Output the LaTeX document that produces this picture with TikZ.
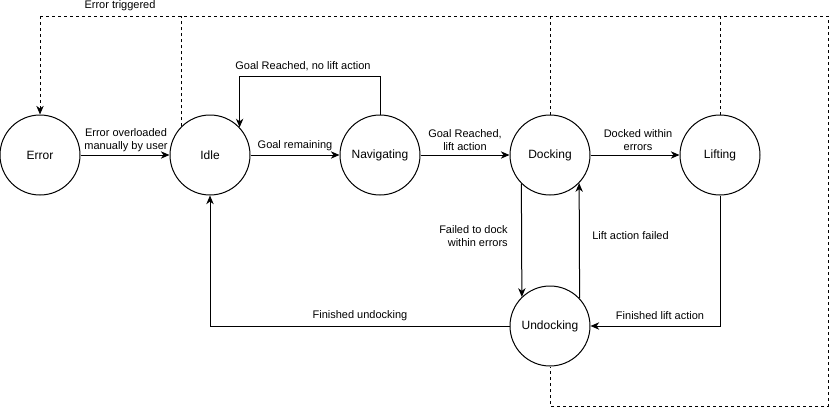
\documentclass[tikz,border=0pt]{standalone}
\usepackage{fontspec}
\setmainfont{Liberation Sans}
\usetikzlibrary{arrows.meta,calc}
\begin{document}
\begin{tikzpicture}[x=0.75pt,y=-0.75pt,
  state/.style={circle,draw,line width=0.75pt,minimum size=60pt,inner sep=0pt,font=\fontsize{9}{11}\selectfont},
  arr/.style={line width=0.75pt,-{Stealth[length=6.5pt,width=5.5pt,inset=2pt]}},
  dsh/.style={line width=0.75pt,dash pattern=on 2.25pt off 2.25pt},
  lbl/.style={font=\fontsize{8.25}{9.75}\selectfont,inner sep=0pt,align=center}]
\useasboundingbox (0,0) rectangle (832,408);
\node[state] (error) at (40,155) {Error};
\node[state] (idle) at (210,155) {Idle};
\node[state] (nav) at (380,155) {Navigating};
\node[state] (dock) at (550,155) {Docking};
\node[state] (lift) at (720,155) {Lifting};
\node[state] (undock) at (550,326) {Undocking};
\coordinate (tl) at (40,16);
\coordinate (tr) at (828,16);
\coordinate (br) at (828,406);
% solid connectors
\draw[arr] (error) -- (idle);
\draw[arr] (idle) -- (nav);
\draw[arr] (nav) -- (dock);
\draw[arr] (dock) -- (lift);
\draw[arr] (nav.north) -- ++(0,-38) -| (idle.43.5);
\draw[arr] (dock.225.6) -- (undock.134.4);
\draw[arr] (undock.43.5) -- (dock.316.5);
\draw[arr] (lift.south) |- (undock.east);
\draw[arr] (undock.west) -| (idle.south);
% dashed error connectors
\draw[dsh] (tl) -- (tr) -- (br) -| (undock.south);
\draw[dsh,-{Stealth[length=6.5pt,width=5.5pt,inset=2pt]}] (tl) -- (error.north);
\draw[dsh] (idle.135) -- (idle.135 |- tl);
\draw[dsh] (dock.north) -- (dock.north |- tl);
\draw[dsh] (lift.north) -- (lift.north |- tl);
% labels
\node[lbl] (l1) at (120,6) {Error triggered};
\node[lbl] (l2) at (126,140) {Error overloaded\\manually by user};
\node[lbl] (l3) at (295,146) {Goal remaining};
\node[lbl] (l4) at (303,66) {Goal Reached, no lift action};
\node[lbl] (l5) at (465,140) {Goal Reached,\\lift action};
\node[lbl] (l6) at (638,140) {Docked within\\errors};
\node[lbl,align=right,anchor=east] (l7) at (508,236) {Failed to dock\\within errors};
\node[lbl,anchor=west] (l8) at (592,236) {Lift action failed};
\node[lbl] (l9) at (660,316) {Finished lift action};
\node[lbl] (l10) at (360,316) {Finished undocking};
\end{tikzpicture}
\end{document}
